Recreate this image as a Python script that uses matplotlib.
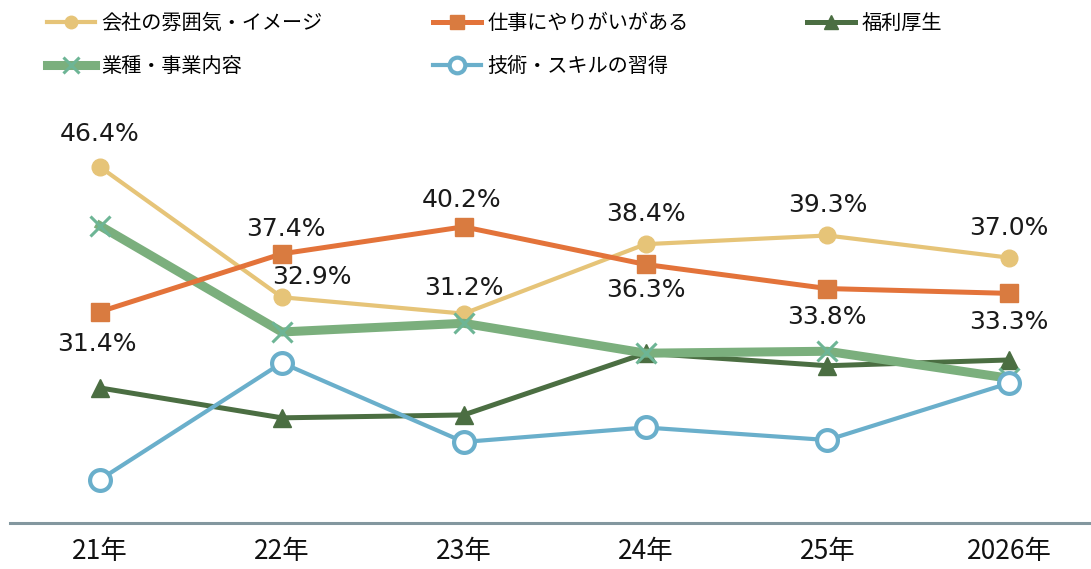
import matplotlib
matplotlib.use("Agg")
import matplotlib.pyplot as plt

plt.rcParams['font.family'] = ['Noto Sans CJK JP', 'DejaVu Sans']

years = ["21年", "22年", "23年", "24年", "25年", "2026年"]
atmosphere = [46.4, 32.9, 31.2, 38.4, 39.3, 37.0]      # 会社の雰囲気・イメージ
rewarding = [31.4, 37.4, 40.2, 36.3, 33.8, 33.3]       # 仕事にやりがいがある
welfare = [23.5, 20.4, 20.7, 27.1, 25.8, 26.4]         # 福利厚生
business = [40.3, 29.3, 30.2, 27.1, 27.3, 24.5]        # 業種・事業内容
skills = [14.0, 26.1, 17.9, 19.4, 18.1, 24.0]          # 技術・スキルの習得

names = ["会社の雰囲気・イメージ", "仕事にやりがいがある", "福利厚生",
         "業種・事業内容", "技術・スキルの習得"]

c_yellow = '#E6C478'
c_orange = '#E3733A'
c_orange_m = '#D97B40'
c_dgreen = '#4B6E42'
c_lgreen = '#7BAF7D'
c_lgreen_m = '#6DB595'
c_blue = '#6AAFCB'

fig = plt.figure(figsize=(10.91, 5.69), dpi=100)
ax = fig.add_axes([10/1091, 46/569, 1 - 10/1091, (523-100)/569])
x = list(range(len(years)))

l_yel, = ax.plot(x, atmosphere, color=c_yellow, lw=3, marker='o', ms=12,
                 mfc=c_yellow, mec=c_yellow, zorder=3)
l_ora, = ax.plot(x, rewarding, color=c_orange, lw=3.6, marker='s', ms=12.5,
                 mfc=c_orange_m, mec=c_orange_m, zorder=4)
l_dgr, = ax.plot(x, welfare, color=c_dgreen, lw=3.6, marker='^', ms=13,
                 mfc=c_dgreen, mec=c_dgreen, zorder=3)
l_lgr, = ax.plot(x, business, color=c_lgreen, lw=6.5, marker='x', ms=15,
                 mew=2.2, mec=c_lgreen_m, zorder=3)
l_blu, = ax.plot(x, skills, color=c_blue, lw=3, marker='o', ms=15,
                 mfc='white', mec=c_blue, mew=3, zorder=3)

# data labels (offsets in pixels)
yel_off = [(0, -33), (30, -20), (0, -26), (0, -30), (0, -30), (0, -30)]
ora_off = [(-3, 32), (4, -25), (-2, -27), (0, 26), (0, 28), (0, 29)]
for i, v in enumerate(atmosphere):
    dx, dy = yel_off[i]
    ax.annotate(f"{v:.1f}%", (x[i], v), xytext=(dx*0.72, -dy*0.72),
                textcoords='offset points', ha='center', va='center',
                fontsize=18, family='DejaVu Sans', color='#1a1a1a', zorder=6)
for i, v in enumerate(rewarding):
    dx, dy = ora_off[i]
    ax.annotate(f"{v:.1f}%", (x[i], v), xytext=(dx*0.72, -dy*0.72),
                textcoords='offset points', ha='center', va='center',
                fontsize=18, family='DejaVu Sans', color='#1a1a1a', zorder=6)

ax.set_xlim(-0.495, 5.45)
ax.set_ylim(9.5, 46.4 + 67/9.65)
ax.set_xticks(x)
ax.set_xticklabels(years, fontsize=19, color='#111111')
ax.tick_params(axis='x', length=0, pad=11)
ax.set_yticks([])
for s in ['top', 'right', 'left']:
    ax.spines[s].set_visible(False)
ax.spines['bottom'].set_color('#83979F')
ax.spines['bottom'].set_linewidth(2.2)

# legend: three columns placed separately
leg_kw = dict(loc='upper left', frameon=False, fontsize=14.5, handlelength=2.4,
              handletextpad=0.3, labelspacing=1.08, borderpad=0, borderaxespad=0,
              markerscale=0.75)
L1 = fig.legend([l_yel, l_lgr], [names[0], names[3]],
                bbox_to_anchor=(47/1091, 1 - 13/569), **leg_kw)
L2 = fig.legend([l_ora, l_blu], [names[1], names[4]],
                bbox_to_anchor=(433/1091, 1 - 13/569), **leg_kw)
L3 = fig.legend([l_dgr], [names[2]],
                bbox_to_anchor=(807/1091, 1 - 13/569), **leg_kw)

fig.savefig("out.png", dpi=100)
